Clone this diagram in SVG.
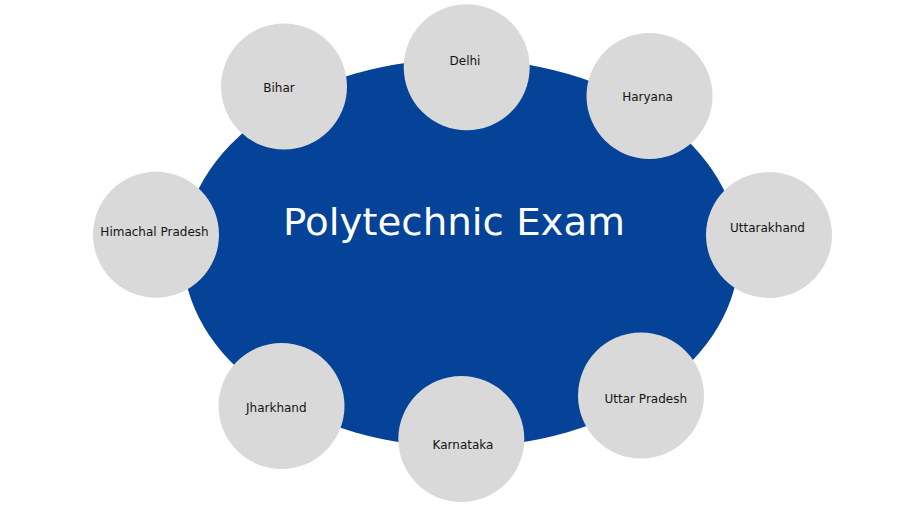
<svg xmlns="http://www.w3.org/2000/svg" width="900" height="506" viewBox="0 0 900 506">
  <style>
    .node circle { fill: #D9D9D9; }
    .node text { font-family: "DejaVu Sans", Verdana, sans-serif; font-size: 12px; fill: #141414; text-anchor: middle; }
    .title { font-family: "DejaVu Sans", Verdana, sans-serif; font-size: 38px; fill: #FFFFFF; text-anchor: middle; }
  </style>
  <rect x="0" y="0" width="900" height="506" fill="#FFFFFF"/>
  <g id="center">
    <ellipse cx="461" cy="253" rx="278" ry="194" fill="#044398"/>
    <text class="title" x="454" y="235" textLength="342" lengthAdjust="spacingAndGlyphs">Polytechnic Exam</text>
  </g>
  <g id="connectors"></g>
  <g id="node-bihar" class="node">
    <circle cx="284" cy="86.5" r="63"/>
    <text x="279" y="91.5">Bihar</text>
  </g>
  <g id="node-delhi" class="node">
    <circle cx="466.7" cy="67.3" r="63"/>
    <text x="465" y="65">Delhi</text>
  </g>
  <g id="node-haryana" class="node">
    <circle cx="649.5" cy="96" r="63"/>
    <text x="647.5" y="100.7">Haryana</text>
  </g>
  <g id="node-uttarakhand" class="node">
    <circle cx="769" cy="235" r="63"/>
    <text x="767.5" y="231.7">Uttarakhand</text>
  </g>
  <g id="node-uttar-pradesh" class="node">
    <circle cx="641" cy="395.5" r="63"/>
    <text x="645.8" y="403.3">Uttar Pradesh</text>
  </g>
  <g id="node-karnataka" class="node">
    <circle cx="461.3" cy="439" r="63"/>
    <text x="463" y="449">Karnataka</text>
  </g>
  <g id="node-jharkhand" class="node">
    <circle cx="281.5" cy="406" r="63"/>
    <text x="276.3" y="411.7">Jharkhand</text>
  </g>
  <g id="node-himachal-pradesh" class="node">
    <circle cx="156" cy="234.7" r="63"/>
    <text x="154.5" y="236">Himachal Pradesh</text>
  </g>
</svg>
